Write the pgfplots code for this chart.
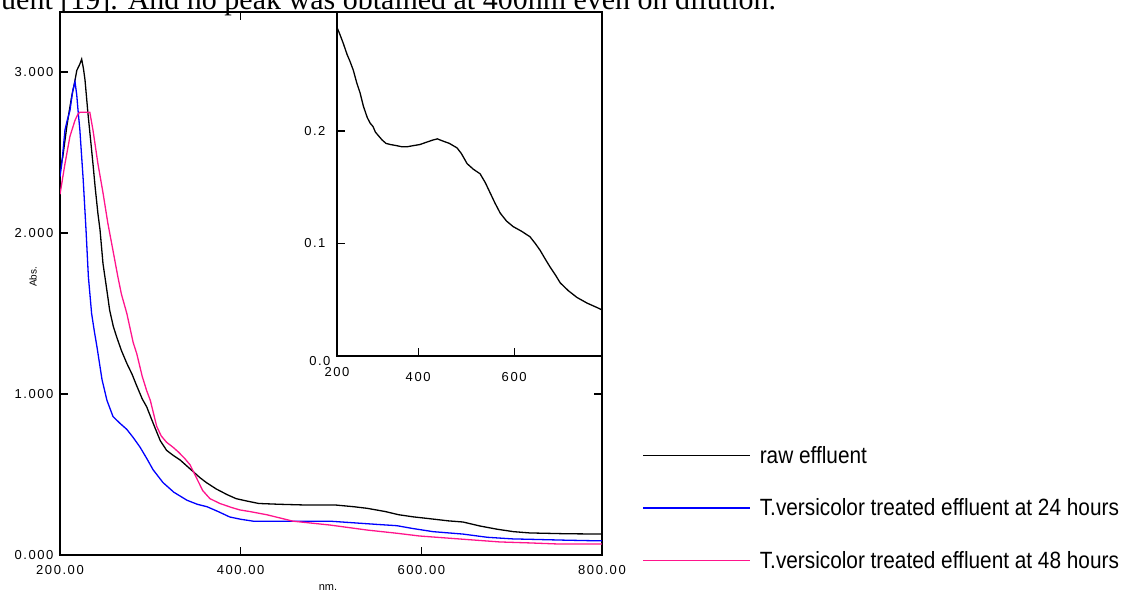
\documentclass[border=0pt]{standalone}
\usepackage{fontspec}
\setmainfont{Liberation Sans}
\newfontfamily\tickfont[LetterSpace=12]{Liberation Sans}
\newfontfamily\bodyfont{Liberation Serif}
\usepackage{pgfplots}
\pgfplotsset{compat=1.18}
\definecolor{raw}{RGB}{0,0,0}
\definecolor{tv24}{RGB}{0,0,255}
\definecolor{tv48}{RGB}{255,20,140}
\newcommand{\legtext}[1]{\scalebox{0.885}[1]{#1}}

\begin{document}
\begin{tikzpicture}[x=1pt,y=1pt]
\path[use as bounding box] (0,0) rectangle (1132,591);
\node[anchor=base west, inner sep=0pt, font=\bodyfont\fontsize{30}{36}\selectfont] at (1,581)
  {uent [19]. And no peak was obtained at 400nm even on dilution.};

% main spectra
\begin{axis}[
    at={(60pt,36pt)}, anchor=south west, scale only axis,
    width=542pt, height=543pt,
    xmin=200, xmax=800, ymin=0, ymax=3.373,
    xtick={200,400,600,800}, xticklabels={200.00,400.00,600.00,800.00},
    ytick={0,1,2,3}, yticklabels={0.000,1.000,2.000,3.000},
    tick align=inside, major tick length=8pt,
    tick style={black, line width=1.2pt},
    axis line style={line width=1.6pt},
    ticklabel style={font=\tickfont\fontsize{13}{15}\selectfont},
    yticklabel style={xshift=-3pt},
    xticklabel style={yshift=-7pt},
    legend style={at={(1.0738,0.2063)}, anchor=north west, draw=none, fill=none,
      inner sep=0pt, font=\fontsize{23.5}{28}\selectfont,
      nodes={inner sep=3pt}, column sep=6pt, row sep=28pt},
    legend cell align=left,
    legend image code/.code={\draw[#1, line width=1.6pt] (0pt,0pt) -- (107pt,0pt);},
  ]
  \addplot[raw, line width=1.3pt] coordinates {
      (200,2.40) (203,2.47) (207.5,2.66) (210,2.75) (213,2.85) (216,2.93) (218.6,3.01)
      (222,3.05) (224,3.08) (226,3.02) (227.7,2.95) (231,2.74) (233.5,2.60) (236.5,2.43)
      (239,2.28) (242,2.12) (244.3,2.02) (247.6,1.81) (252,1.64) (255,1.52) (259,1.42)
      (263,1.35) (268,1.27) (274,1.19) (280,1.12) (285,1.05) (291,0.97) (296,0.92)
      (303,0.82) (311,0.71) (318,0.65) (325,0.62) (333,0.59) (340,0.555) (347,0.52)
      (355,0.48) (362,0.45) (373,0.41) (385,0.375) (395,0.35) (407,0.335) (420,0.32)
      (443,0.315) (475,0.31) (506,0.31) (525,0.30) (540,0.29) (560,0.27) (575,0.25)
      (591,0.237) (610,0.225) (630,0.212) (646,0.205) (665,0.18) (684,0.16) (702,0.145)
      (720,0.137) (760,0.132) (800,0.13)
    };
  \addlegendentry{\legtext{raw effluent}}
  \addplot[tv24, line width=1.3pt] coordinates {
      (200,2.35) (202,2.43) (205.5,2.64) (208,2.70) (211,2.76) (214,2.88) (216.6,2.94)
      (218.5,2.86) (220,2.76) (222,2.64) (225.7,2.33) (228.8,2.02) (231.4,1.73) (235,1.50)
      (238,1.39) (241,1.29) (246.5,1.09) (252,0.96) (258.7,0.86) (266,0.82) (274,0.78)
      (281,0.73) (288.6,0.67) (296,0.60) (303,0.53) (314,0.45) (326,0.39) (340.6,0.34)
      (352,0.315) (362.7,0.30) (375,0.27) (388,0.236) (400,0.222) (414,0.21) (458,0.21)
      (499,0.21) (525,0.20) (551,0.19) (573,0.182) (590,0.165) (613,0.145) (646,0.13)
      (673,0.11) (701,0.10) (724,0.097) (760,0.092) (787,0.089) (800,0.088)
    };
  \addlegendentry{\legtext{T.versicolor treated effluent at 24 hours}}
  \addplot[tv48, line width=1.3pt] coordinates {
      (200,2.24) (205.5,2.43) (211,2.60) (216.6,2.70) (220,2.74) (222,2.75) (233,2.75)
      (236.5,2.64) (242,2.43) (247.6,2.25) (253,2.06) (258.7,1.89) (264,1.73) (268,1.62)
      (274,1.50) (281,1.32) (285,1.25) (291,1.11) (296,1.02) (300,0.96) (307,0.80)
      (312,0.74) (318,0.70) (325,0.67) (331,0.64) (338,0.60) (344,0.56) (351,0.48)
      (358,0.40) (366,0.35) (377,0.32) (390,0.295) (399,0.28) (410,0.27) (429,0.25)
      (458,0.21) (499,0.186) (540,0.155) (573,0.135) (598,0.118) (646,0.098) (687,0.081)
      (720,0.075) (753,0.068) (800,0.068)
    };
  \addlegendentry{\legtext{T.versicolor treated effluent at 48 hours}}
\end{axis}

% inset
\begin{axis}[
    at={(337pt,235pt)}, anchor=south west, scale only axis,
    width=265pt, height=344pt,
    xmin=231, xmax=783, ymin=0, ymax=0.3058,
    axis background/.style={fill=white},
    xtick={400,600}, xticklabels={400,600},
    ytick={0.1,0.2}, yticklabels={0.1,0.2},
    extra x ticks={231}, extra x tick labels={200},
    extra y ticks={0}, extra y tick labels={0.0},
    extra x tick style={xticklabel style={yshift=5pt}},
    extra y tick style={yticklabel style={xshift=5pt, yshift=-5pt}},
    xtick pos=bottom, ytick pos=left,
    tick align=inside, major tick length=8pt,
    tick style={black, line width=1.2pt},
    axis line style={line width=1.6pt},
    ticklabel style={font=\tickfont\fontsize{13}{15}\selectfont},
    yticklabel style={xshift=-8pt},
    xticklabel style={yshift=-12.5pt},
  ]
  \addplot[raw, line width=1.3pt] coordinates {
      (231,0.292) (236,0.287) (244,0.278) (252,0.268) (258,0.262) (265,0.254) (272,0.243)
      (279,0.234) (286,0.222) (294,0.212) (300,0.207) (306,0.204) (311,0.199) (317,0.196)
      (325,0.192) (333,0.189) (342,0.188) (355,0.187) (366,0.186) (377,0.186) (390,0.187)
      (404,0.188) (417,0.190) (431,0.192) (440,0.193) (452,0.191) (465,0.189) (481,0.185)
      (490,0.180) (502,0.171) (515,0.166) (529,0.162) (540,0.154) (550,0.145) (560,0.136)
      (571,0.127) (584,0.120) (598,0.115) (615,0.111) (633,0.106) (644,0.100) (654,0.094)
      (665,0.086) (675,0.079) (686,0.072) (696,0.065) (713,0.058) (731,0.052) (752,0.047)
      (773,0.043) (783,0.041)
    };
\end{axis}

\node[rotate=90, font=\fontsize{10}{12}\selectfont, inner sep=0pt] at (33,314) {Abs.};
\node[anchor=base, font=\fontsize{11}{13}\selectfont, inner sep=0pt] at (328,0) {nm.};
\end{tikzpicture}
\end{document}
